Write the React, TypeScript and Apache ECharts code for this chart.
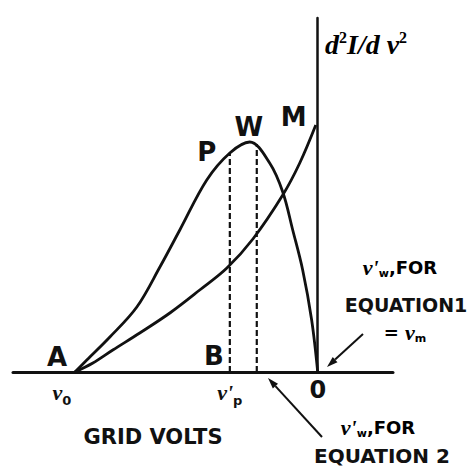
import React, { useEffect, useRef } from 'react';
import * as echarts from 'echarts';

// Axis extents: grid volts (x) and second derivative d²I/dv² (y)
const gridVoltsRange = [-12.55, 3.1];
const secondDerivMax = 3.54;

// Curve rising from A through P and W, falling back to zero at 0
const pwVolts = [-10, -9.51, -8.56, -7.45, -6.5, -5.68, -4.57, -3.62, -2.8, -1.98, -1.44, -1.03, -0.62, -0.25, 0];
const pwValues = [0, 0.12, 0.35, 0.65, 1.05, 1.42, 1.92, 2.19, 2.3, 2.09, 1.8, 1.42, 1.02, 0.52, 0];

// Curve rising from A to M on the vertical axis
const mVolts = [-10, -9.26, -8.44, -7.33, -6.09, -4.86, -3.74, -2.67, -1.44, -0.74, -0.08];
const mValues = [0, 0.09, 0.22, 0.39, 0.59, 0.82, 1.04, 1.33, 1.77, 2.09, 2.47];

// Dashed ordinates at v'p (B) and v'w (W)
const dashVolts = [-3.62, -2.51];
const dashTops = [2.19, 2.28];

// Ticks on the grid-volts axis: v0, v'p and 0
const xTickValues = [-10, -3.62, 0];
const xTickMain = ['v', "v'", '0'];
const xTickSub = ['0', 'p', ''];

// Lettered points
const pointNames = ['A', 'B', 'P', 'W', 'M'];
const pointVolts = [-10.74, -4.28, -4.57, -2.84, -0.99];
const pointHeights = [0.15, 0.16, 2.2, 2.45, 2.55];

const INK = '#111';
const SANS = '"DejaVu Sans", sans-serif';
const SERIF = '"Liberation Serif", serif';

function zip(xs: number[], ys: number[]) {
  return xs.map((x, i) => [x, ys[i]]);
}

function arrow(x1: number, y1: number, x2: number, y2: number) {
  const dx = x2 - x1;
  const dy = y2 - y1;
  const len = Math.hypot(dx, dy);
  const ux = dx / len;
  const uy = dy / len;
  const hl = 11;
  const hw = 3.5;
  const bx = x2 - ux * hl;
  const by = y2 - uy * hl;
  return [
    { type: 'line', shape: { x1, y1, x2: bx, y2: by }, style: { stroke: INK, lineWidth: 2 } },
    {
      type: 'polygon',
      shape: { points: [[x2, y2], [bx - uy * hw, by + ux * hw], [bx + uy * hw, by - ux * hw]] },
      style: { fill: INK },
    },
  ];
}

const vStyle = { fontFamily: SERIF, fontStyle: 'italic', fontWeight: 'bold', fontSize: 22, color: INK, lineHeight: 24 };
const subStyle = { fontFamily: SANS, fontWeight: 'bold', fontSize: 11, color: INK, lineHeight: 12, verticalAlign: 'bottom' };
const capsStyle = { fontFamily: SANS, fontWeight: 'bold', fontSize: 18, color: INK, lineHeight: 24 };

export default function App() {
  const ref = useRef<HTMLDivElement>(null);

  useEffect(() => {
    if (!ref.current) return;
    const chart = echarts.init(ref.current, null, { renderer: 'svg' });

    const curveLine = { color: INK, width: 2.8 };

    const option: any = {
      animation: false,
      backgroundColor: '#fff',
      grid: { left: 13, right: 82, top: 18, bottom: 97 },
      xAxis: {
        type: 'value',
        min: gridVoltsRange[0],
        max: gridVoltsRange[1],
        splitLine: { show: false },
        axisTick: { show: false },
        axisLine: { show: true, onZero: true, lineStyle: { color: INK, width: 3 } },
        axisLabel: {
          show: true,
          customValues: xTickValues,
          margin: 5,
          formatter: (val: number) => {
            const i = xTickValues.findIndex((t) => Math.abs(t - val) < 1e-6);
            if (i < 0) return '';
            if (!xTickSub[i]) return `{n|${xTickMain[i]}}`;
            // the v0 label sits a little left of its tick
            if (i === 0) return `{v|${xTickMain[i]}}{s0|${xTickSub[i]}}`;
            return `{v|${xTickMain[i]}}{s|${xTickSub[i]}}`;
          },
          rich: {
            v: { ...vStyle, lineHeight: 30 },
            s: { ...subStyle, fontSize: 13, lineHeight: 14 },
            s0: { ...subStyle, fontSize: 13, lineHeight: 14, padding: [0, 26, 0, 0] },
            n: { fontFamily: SANS, fontWeight: 'bold', fontSize: 24, color: INK, lineHeight: 26 },
          },
        },
      },
      yAxis: {
        type: 'value',
        min: 0,
        max: secondDerivMax,
        splitLine: { show: false },
        axisTick: { show: false },
        axisLabel: { show: false },
        axisLine: { show: true, onZero: true, lineStyle: { color: INK, width: 2.5 } },
      },
      series: [
        {
          type: 'line',
          data: zip(pwVolts, pwValues),
          smooth: 0.35,
          symbol: 'none',
          lineStyle: curveLine,
        },
        {
          type: 'line',
          data: zip(mVolts, mValues),
          smooth: 0.35,
          symbol: 'none',
          lineStyle: curveLine,
        },
        ...dashVolts.map((v, i) => ({
          type: 'line',
          data: [[v, 0], [v, dashTops[i]]],
          symbol: 'none',
          lineStyle: { color: INK, width: 2.2, type: [6, 3] },
        })),
        {
          type: 'scatter',
          symbolSize: 1,
          itemStyle: { color: 'rgba(0,0,0,0)', opacity: 1 },
          data: pointNames.map((n, i) => ({ name: n, value: [pointVolts[i], pointHeights[i]] })),
          label: {
            show: true,
            position: 'inside',
            formatter: '{b}',
            fontFamily: SANS,
            fontWeight: 'bold',
            fontSize: 26,
            color: INK,
            opacity: 1,
          },
        },
      ],
      graphic: [
        {
          type: 'text',
          x: 325,
          y: 44,
          style: {
            text: '{d|d}{sup|2}{d|I/d }{d|v}{sup|2}',
            verticalAlign: 'middle',
            rich: {
              d: { fontFamily: SERIF, fontStyle: 'italic', fontWeight: 'bold', fontSize: 28, color: INK, lineHeight: 30 },
              sup: { fontFamily: SERIF, fontWeight: 'bold', fontSize: 16, color: INK, lineHeight: 17, verticalAlign: 'top' },
            },
          },
        },
        {
          type: 'text',
          x: 400,
          y: 267,
          style: {
            text: "{v|v'}{s|w}{c|,FOR}",
            align: 'center',
            verticalAlign: 'middle',
            rich: { v: vStyle, s: subStyle, c: capsStyle },
          },
        },
        {
          type: 'text',
          x: 406,
          y: 305,
          style: { text: 'EQUATION1', align: 'center', verticalAlign: 'middle', fontFamily: SANS, fontWeight: 'bold', fontSize: 19, fill: INK },
        },
        {
          type: 'text',
          x: 405,
          y: 332,
          style: {
            text: '{c|= }{v|v}{s|m}',
            align: 'center',
            verticalAlign: 'middle',
            rich: { v: vStyle, s: subStyle, c: capsStyle },
          },
        },
        {
          type: 'text',
          x: 153,
          y: 437,
          style: { text: 'GRID VOLTS', align: 'center', verticalAlign: 'middle', fontFamily: SANS, fontWeight: 'bold', fontSize: 21, fill: INK },
        },
        {
          type: 'text',
          x: 378,
          y: 427,
          style: {
            text: "{v|v'}{s|w}{c|,FOR}",
            align: 'center',
            verticalAlign: 'middle',
            rich: { v: vStyle, s: subStyle, c: capsStyle },
          },
        },
        {
          type: 'text',
          x: 382,
          y: 456,
          style: { text: 'EQUATION 2', align: 'center', verticalAlign: 'middle', fontFamily: SANS, fontWeight: 'bold', fontSize: 20, fill: INK },
        },
        ...arrow(363, 334, 327, 367),
        ...arrow(322, 437, 268, 378),
      ],
    };

    chart.setOption(option);
    return () => chart.dispose();
  }, []);

  return <div ref={ref} style={{ position: 'absolute', left: 0, top: 0, width: 475, height: 469 }} />;
}
